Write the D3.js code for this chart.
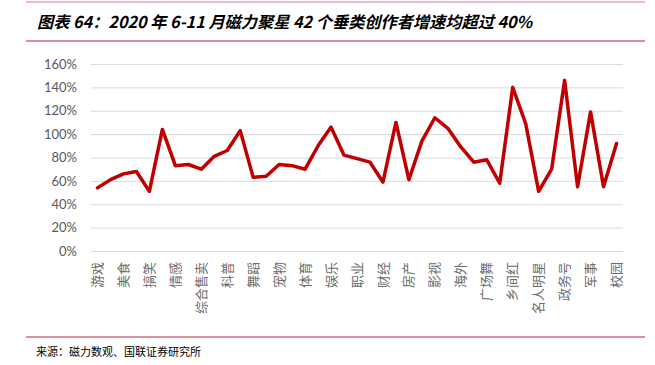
<!DOCTYPE html>
<html><head><meta charset="utf-8">
<script src="https://cdn.jsdelivr.net/npm/d3@7"></script>
<style>
html,body{margin:0;padding:0;background:#fff;}
svg{display:block;}
</style></head>
<body>
<svg id="chart" width="655" height="365"></svg>
<script>
const categories = ["游戏","动漫","美食","汽车","搞笑","母婴","情感","时尚","综合售卖","美妆","科普","教育","舞蹈","音乐","宠物","旅游","体育","健身","娱乐","三农","职业","摄影","财经","法律","房产","家居","影视","数码","海外","生活","广场舞","才艺","乡间红","医疗","名人明星","二次元","政务号","媒体","军事","历史","校园"];
const growth = [54,61,66,68,51,104,73,74,70,81,86,103,63,64,74,73,70,90,106,82,79,76,59,110,61,94,114,105,89,76,78,58,140,109,51,70,146,55,119,55,92];
const yTicks = [0,20,40,60,80,100,120,140,160];
const titleText = "图表 64：2020 年 6-11 月磁力聚星 42 个垂类创作者增速均超过 40%";
const sourceText = "来源：磁力数观、国联证券研究所";

const svg = d3.select("#chart");
const cjk = "'Noto Sans CJK SC', 'Noto Sans', sans-serif";

// header lines and title
svg.append("line").attr("x1",26).attr("x2",645).attr("y1",2).attr("y2",2)
  .attr("stroke","#e8a3b3").attr("stroke-width",1.5);
svg.append("text").attr("x",37).attr("y",24).attr("dominant-baseline","middle")
  .attr("font-family",cjk).attr("font-size",16.2).attr("font-weight","bold").attr("font-style","italic")
  .attr("fill","#000").text(titleText);
svg.append("line").attr("x1",26).attr("x2",645).attr("y1",41).attr("y2",41)
  .attr("stroke","#b4233f").attr("stroke-width",1.2);

// footer
svg.append("line").attr("x1",26).attr("x2",645).attr("y1",337).attr("y2",337)
  .attr("stroke","#c0203f").attr("stroke-width",1.2);
svg.append("text").attr("x",36).attr("y",353).attr("dominant-baseline","middle")
  .attr("font-family",cjk).attr("font-size",11).attr("fill","#000").text(sourceText);

const x = d3.scaleBand().domain(categories).range([91,623]).padding(0);
const y = d3.scaleLinear().domain([0,160]).range([251,64]);

// grid
const yAxis = d3.axisLeft(y).tickValues(yTicks).tickFormat(d=>d+"%").tickSize(-(623-91)).tickPadding(14);
const gy = svg.append("g").attr("transform","translate(91,0)").call(yAxis);
gy.select(".domain").remove();
gy.selectAll(".tick line").attr("stroke","#d9d9d9").attr("stroke-width",1);
gy.selectAll(".tick text").attr("font-family","Lato, 'Liberation Sans', sans-serif")
  .attr("font-size",13).attr("fill","#595959");

// x axis labels (every other category)
const xAxis = d3.axisBottom(x).tickValues(categories.filter((d,i)=>i%2===0)).tickSize(0).tickPadding(0);
const gx = svg.append("g").attr("transform","translate(0,251)").call(xAxis);
gx.select(".domain").remove();
gx.selectAll(".tick text")
  .attr("font-family",cjk).attr("font-size",13).attr("fill","#6b6b6b")
  .attr("transform","translate(0,11) rotate(-90)")
  .attr("text-anchor","end").attr("dy","0.35em").attr("y",0).attr("x",0);

// line
const line = d3.line().x((d,i)=>x(categories[i])+x.bandwidth()/2).y(d=>y(d));
svg.append("path").datum(growth).attr("d",line)
  .attr("fill","none").attr("stroke","#c00000").attr("stroke-width",3.5)
  .attr("stroke-linejoin","round").attr("stroke-linecap","round");
</script>
</body></html>
